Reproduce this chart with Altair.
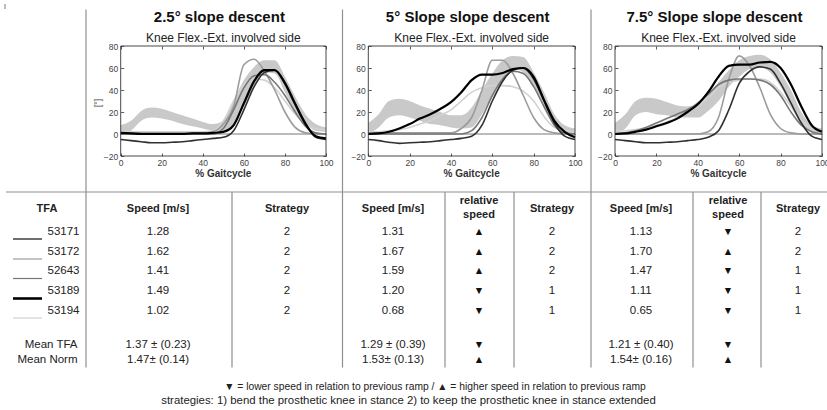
import altair as alt
import pandas as pd

W, H = 827, 410
FONT = "Liberation Sans"

# ---------------- data ----------------
gait_pct = [0, 5, 10, 15, 20, 25, 30, 35, 40, 45, 50, 55, 60, 65, 70, 75, 80, 85, 90, 95, 100]

panel_titles = ["2.5° slope descent", "5° Slope slope descent", "7.5° Slope slope descent"]
panel_subtitle = "Knee Flex.-Ext. involved side"
x_axis_title = "% Gaitcycle"
y_axis_title = "[°]"
x_ticks = [0, 20, 40, 60, 80, 100]
y_ticks = [-20, 0, 20, 40, 60, 80]

subjects = ["53171", "53172", "52643", "53189", "53194"]

# 2.5 deg panel
band_lo_25 = [0, 3, 12, 15, 14, 12, 9, 7, 5, 3, 2, 9, 25, 43, 56, 55, 38, 21, 9, 3, 2]
band_hi_25 = [8, 12, 21, 24, 23, 20, 17, 14, 11, 9, 12, 30, 49, 61, 67, 67, 52, 34, 18, 9, 6]
k25_53171 = [-5, -6, -7, -8, -8, -7.5, -7, -6, -5, -4, -3, 3, 22, 43, 56, 58, 47, 28, 10, -3, -5]
k25_53172 = [1, 1, 1, 1, 1, 1, 1, 1, 1, 2, 9, 25, 63, 68, 57, 40, 20, 6, 1, 0, 0]
k25_52643 = [0, 0, 0, 0, 0, 0, 0, 0, 0, 0, 5, 22, 42, 53, 54, 47, 35, 20, 7, 1, 0]
k25_53189 = [1, 0.5, 0, 0, 0, 0, 0, 0.5, 0.5, 1, 2, 8, 28, 48, 58, 58, 46, 27, 9, -2, -4]
k25_53194 = [2, 2, 2, 2, 2, 2, 2, 2, 2, 3, 12, 30, 45, 50, 49, 42, 30, 18, 9, 5, 4]

# 5 deg panel
band_lo_5 = [0, 6, 15, 17, 15, 12, 9, 8, 6, 5, 6, 18, 34, 49, 59, 56, 43, 24, 9, 2, 0]
band_hi_5 = [10, 18, 30, 32, 30, 26, 23, 20, 17, 17, 24, 40, 55, 67, 71, 70, 56, 38, 18, 8, 5]
k5_53171 = [-5, -6, -7.5, -8.5, -8, -7.5, -7, -6, -5, -4, -2, 8, 30, 48, 58, 60, 50, 30, 10, -2, -5]
k5_53172 = [1, 1, 1, 1, 1, 1, 1, 1, 1, 5, 15, 40, 67, 67, 55, 35, 15, 4, 1, 0, 0]
k5_52643 = [0, 0, 0, 0, 0, 0, 0, 0, 0, 0, 3, 15, 35, 50, 57, 55, 43, 25, 8, 1, 0]
k5_53189 = [0, 0.5, 2, 5, 9, 14, 18, 23, 29, 38, 49, 54, 54, 55.5, 59, 60, 52, 31, 12, 2, -3]
k5_53194 = [2, 2, 3, 4, 6, 9, 12, 17, 22, 30, 38, 42, 44, 44, 43, 39, 30, 16, 6, 3, 2]

# 7.5 deg panel
band_lo_75 = [0, 5, 17, 20, 18, 17, 15, 15, 15, 21, 30, 43, 52, 59, 61, 56, 43, 26, 9, 2, 0]
band_hi_75 = [10, 18, 30, 33, 32, 29, 26, 25, 27, 35, 47, 58, 67, 71, 72, 68, 56, 40, 20, 8, 5]
k75_53171 = [-5, -6, -7, -8, -8, -7.5, -7, -6, -5, -3, 3, 22, 46, 57, 61, 59, 46, 28, 10, -2, -5]
k75_53172 = [0, 0, 0, 0, 0, 0, 0, 0, 0, 2, 15, 50, 71, 62, 42, 18, 5, 1, 0, 0, 0]
k75_52643 = [0, 1, 3, 6, 10, 14, 18, 22, 28, 36, 45, 49, 50, 50, 49, 45, 35, 20, 8, 2, 0]
k75_53189 = [0, 0.5, 2, 4, 7, 10, 14, 20, 27, 38, 52, 62, 63, 63, 65, 65.5, 60, 45, 25, 8, 2]
k75_53194 = [3, 3, 4, 6, 8, 11, 15, 20, 25, 33, 42, 47, 49, 50, 50, 47, 38, 25, 12, 5, 3]

# table
tfa_header = "TFA"
speed_header = "Speed [m/s]"
rel_header = ["relative", "speed"]
strategy_header = "Strategy"
speed_25 = ["1.28", "1.62", "1.41", "1.49", "1.02"]
strat_25 = ["2", "2", "2", "2", "2"]
speed_5 = ["1.31", "1.67", "1.59", "1.20", "0.68"]
rel_5 = ["▲", "▲", "▲", "▼", "▼"]
strat_5 = ["2", "2", "2", "1", "1"]
speed_75 = ["1.13", "1.70", "1.47", "1.11", "0.65"]
rel_75 = ["▼", "▲", "▼", "▼", "▼"]
strat_75 = ["2", "2", "1", "1", "1"]
mean_labels = ["Mean TFA", "Mean Norm"]
mean_25 = ["1.37 ± (0.23)", "1.47± (0.14)"]
mean_5 = ["1.29 ± (0.39)", "1.53± (0.13)"]
mean_rel_5 = ["▼", "▲"]
mean_75 = ["1.21 ± (0.40)", "1.54± (0.16)"]
mean_rel_75 = ["▼", "▲"]
footnote = [
    "▼ = lower speed in relation to previous ramp / ▲ = higher speed in relation to previous ramp",
    "strategies: 1) bend the prosthetic knee in stance 2) to keep the prosthetic knee in stance extended",
]

# ---------------- styles / layout ----------------
subj_color = {"53171": "#303030", "53172": "#9c9c9c", "52643": "#777777", "53189": "#000000", "53194": "#d2d2d2"}
subj_width = {"53171": 1.6, "53172": 1.6, "52643": 1.6, "53189": 2.2, "53194": 1.6}
draw_order = ["53194", "53172", "52643", "53171", "53189"]
legend_width = {"53171": 1.4, "53172": 1.2, "52643": 1.2, "53189": 2.6, "53194": 1.2}
BAND_COLOR = "#c9c9c9"

X_DOMAIN = [0, 100]
Y_DOMAIN = [-20, 80]
PANEL_X = [(120.7, 326.0), (368.3, 575.0), (615.0, 822.0)]
PLOT_TOP, PLOT_BOTTOM = 46.0, 156.0

ROW_Y = [231.5, 251.5, 271.0, 291.0, 310.5]
HEADER_Y = 208.5
REL_Y = [200.5, 214.5]
MEAN_Y = [344.5, 359.5]
COLX = {"tfa": 47, "id": 79.5, "leg0": 13, "leg1": 42, "mlab": 77.5,
        "sp1": 158, "st1": 287, "sp2": 393, "rel2": 479, "st2": 552,
        "sp3": 641, "rel3": 728, "st3": 798}

curves = [
    dict(lo=band_lo_25, hi=band_hi_25, k={"53171": k25_53171, "53172": k25_53172, "52643": k25_52643, "53189": k25_53189, "53194": k25_53194}),
    dict(lo=band_lo_5, hi=band_hi_5, k={"53171": k5_53171, "53172": k5_53172, "52643": k5_52643, "53189": k5_53189, "53194": k5_53194}),
    dict(lo=band_lo_75, hi=band_hi_75, k={"53171": k75_53171, "53172": k75_53172, "52643": k75_52643, "53189": k75_53189, "53194": k75_53194}),
]

PXS_X = alt.Scale(domain=[0, W], range=[0, W], nice=False, zero=False)
PXS_Y = alt.Scale(domain=[0, H], range=[0, H], nice=False, zero=False)


def px_text(df, **mk):
    base = dict(font=FONT, fontSize=11.5, color="#222222", baseline="middle", align="center")
    base.update(mk)
    return alt.Chart(df).mark_text(**base).encode(
        x=alt.X("x:Q", scale=PXS_X, axis=None),
        y=alt.Y("y:Q", scale=PXS_Y, axis=None),
        text="t:N",
    )


def px_rules(df, **mk):
    return alt.Chart(df).mark_rule(**mk).encode(
        x=alt.X("x:Q", scale=PXS_X, axis=None), x2="x2:Q",
        y=alt.Y("y:Q", scale=PXS_Y, axis=None), y2="y2:Q",
    )


def tick_axis(orient, offset, values):
    return alt.Axis(orient=orient, offset=offset, values=values, labels=False, domain=False,
                    ticks=True, tickSize=3, tickColor="#333333", tickWidth=0.8, grid=False, title=None)


layers = []

# ---- table / frame lines ----
lines_df = pd.DataFrame({
    "x": [6, 86, 342.5, 591, 232, 445, 514, 693, 761, 5],
    "x2": [W, 86, 342.5, 591, 232, 445, 514, 693, 761, 5],
    "y": [192, 9.5, 9.5, 9.5, 192, 192, 192, 192, 192, 4],
    "y2": [192, 367.5, 367.5, 367.5, 367.5, 367.5, 367.5, 367.5, 367.5, 9],
})
layers.append(px_rules(lines_df, color="#8f8f8f", strokeWidth=1.2))

# ---- plot panels ----
for i in range(3):
    xs = alt.Scale(domain=X_DOMAIN, range=[PANEL_X[i][0], PANEL_X[i][1]], nice=False, zero=False)
    ys = alt.Scale(domain=Y_DOMAIN, range=[PLOT_BOTTOM, PLOT_TOP], nice=False, zero=False)
    c = curves[i]
    band_df = pd.DataFrame({"pct": gait_pct, "lo": c["lo"], "hi": c["hi"]})
    layers.append(alt.Chart(band_df).mark_area(color=BAND_COLOR, interpolate="monotone").encode(
        x=alt.X("pct:Q", scale=xs, axis=tick_axis("bottom", PLOT_TOP - H, x_ticks)),
        y=alt.Y("lo:Q", scale=ys, axis=tick_axis("left", -PANEL_X[i][1], y_ticks)),
        y2="hi:Q",
    ))
    zero_df = pd.DataFrame({"a": [X_DOMAIN[0]], "b": [X_DOMAIN[1]], "v": [0]})
    layers.append(alt.Chart(zero_df).mark_rule(color="#555555", strokeWidth=0.8).encode(
        x=alt.X("a:Q", scale=xs, axis=tick_axis("top", -PLOT_BOTTOM, x_ticks)),
        x2="b:Q",
        y=alt.Y("v:Q", scale=ys, axis=tick_axis("right", PANEL_X[i][0] - W, y_ticks)),
    ))
    for s in draw_order:
        df = pd.DataFrame({"pct": gait_pct, "val": c["k"][s]})
        layers.append(alt.Chart(df).mark_line(color=subj_color[s], strokeWidth=subj_width[s],
                                              interpolate="monotone").encode(
            x=alt.X("pct:Q", scale=xs, axis=None),
            y=alt.Y("val:Q", scale=ys, axis=None),
        ))
    frame_df = pd.DataFrame({"x0": [X_DOMAIN[0]], "x1": [X_DOMAIN[1]], "y0": [Y_DOMAIN[0]], "y1": [Y_DOMAIN[1]]})
    layers.append(alt.Chart(frame_df).mark_rect(fillOpacity=0, stroke="#333333", strokeWidth=0.9).encode(
        x=alt.X("x0:Q", scale=xs, axis=alt.Axis(
            orient="bottom", offset=PLOT_BOTTOM - H, values=x_ticks, domain=False, ticks=False, tickSize=0,
            grid=False, title=None, labelPadding=2, labelFont=FONT, labelFontSize=8.5, labelColor="#444444",
            labelOverlap=False, labelFlush=False)),
        x2="x1:Q",
        y=alt.Y("y0:Q", scale=ys, axis=alt.Axis(
            orient="left", offset=-PANEL_X[i][0], values=y_ticks, domain=False, ticks=False, tickSize=0,
            grid=False, title=None, labelPadding=3, labelFont=FONT, labelFontSize=8.5, labelColor="#444444",
            labelOverlap=False, labelFlush=False)),
        y2="y1:Q",
    ))

# ---- panel titles ----
cx = [(a + b) / 2 for a, b in PANEL_X]
layers.append(px_text(pd.DataFrame({"x": [v - 4 for v in cx], "y": [22] * 3, "t": panel_titles}),
                      fontSize=15, fontWeight="bold", baseline="alphabetic", color="#111111"))
layers.append(px_text(pd.DataFrame({"x": cx, "y": [42] * 3, "t": [panel_subtitle] * 3}),
                      fontSize=12, baseline="alphabetic", color="#222222"))
layers.append(px_text(pd.DataFrame({"x": cx, "y": [173.5] * 3, "t": [x_axis_title] * 3}),
                      fontSize=10, fontWeight="bold", color="#333333"))
layers.append(px_text(pd.DataFrame({"x": [97.5], "y": [103], "t": [y_axis_title]}),
                      fontSize=8.5, angle=270, color="#444444"))

# ---- table text ----
head = pd.DataFrame({
    "x": [COLX["tfa"], COLX["sp1"], COLX["st1"], COLX["sp2"], COLX["st2"], COLX["sp3"], COLX["st3"],
          COLX["rel2"], COLX["rel2"], COLX["rel3"], COLX["rel3"]],
    "y": [HEADER_Y] * 7 + [REL_Y[0], REL_Y[1], REL_Y[0], REL_Y[1]],
    "t": [tfa_header, speed_header, strategy_header, speed_header, strategy_header, speed_header, strategy_header,
          rel_header[0], rel_header[1], rel_header[0], rel_header[1]],
})
layers.append(px_text(head, fontSize=11, fontWeight="bold"))

body_rows = []
for r in range(5):
    for col, arr in [("sp1", speed_25), ("st1", strat_25), ("sp2", speed_5), ("st2", strat_5),
                     ("sp3", speed_75), ("st3", strat_75)]:
        body_rows.append({"x": COLX[col], "y": ROW_Y[r], "t": arr[r]})
for r in range(2):
    for col, arr in [("sp1", mean_25), ("sp2", mean_5), ("sp3", mean_75)]:
        body_rows.append({"x": COLX[col], "y": MEAN_Y[r], "t": arr[r]})
layers.append(px_text(pd.DataFrame(body_rows)))

tri_rows = []
for r in range(5):
    tri_rows.append({"x": COLX["rel2"], "y": ROW_Y[r], "t": rel_5[r]})
    tri_rows.append({"x": COLX["rel3"], "y": ROW_Y[r], "t": rel_75[r]})
for r in range(2):
    tri_rows.append({"x": COLX["rel2"], "y": MEAN_Y[r], "t": mean_rel_5[r]})
    tri_rows.append({"x": COLX["rel3"], "y": MEAN_Y[r], "t": mean_rel_75[r]})
layers.append(px_text(pd.DataFrame(tri_rows), fontSize=10.5, color="#111111"))

layers.append(px_text(pd.DataFrame({"x": [COLX["id"]] * 5, "y": ROW_Y, "t": subjects}), align="right"))
layers.append(px_text(pd.DataFrame({"x": [COLX["mlab"]] * 2, "y": MEAN_Y, "t": mean_labels}), align="right"))

# legend sample lines in TFA column
for r, s in enumerate(subjects):
    ldf = pd.DataFrame({"x": [COLX["leg0"]], "x2": [COLX["leg1"]], "y": [ROW_Y[r] + 7.5], "y2": [ROW_Y[r] + 7.5]})
    layers.append(px_rules(ldf, color=subj_color[s], strokeWidth=legend_width[s]))

# footnote
layers.append(px_text(pd.DataFrame({"x": [435], "y": [387], "t": footnote[:1]}), fontSize=10.3))
layers.append(px_text(pd.DataFrame({"x": [408.5], "y": [401], "t": footnote[1:]}), fontSize=11.4))

chart = alt.layer(*layers).resolve_scale(x="independent", y="independent").properties(
    width=W, height=H, padding=0, autosize=alt.AutoSizeParams(type="none"), background="white"
).configure_view(stroke=None)

chart.save("out.html", embed_options={"renderer": "svg", "actions": False})
